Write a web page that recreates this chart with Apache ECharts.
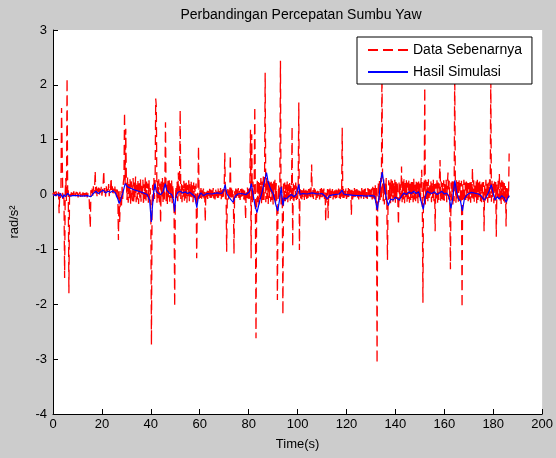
<!DOCTYPE html>
<html><head><meta charset="utf-8">
<script src="https://cdn.jsdelivr.net/npm/echarts@6/dist/echarts.min.js"></script>
<style>html,body{margin:0;padding:0;background:#cccccc}#c{width:556px;height:458px}</style>
</head><body><div id="c"></div>
<script>
// Chart texts
var titleText = 'Perbandingan Percepatan Sumbu Yaw';
var xName = 'Time(s)';
var yName = 'rad/s\u00b2';
var seriesNames = ['Data Sebenarnya', 'Hasil Simulasi'];
var xTicks = [0, 20, 40, 60, 80, 100, 120, 140, 160, 180, 200];
var yTicks = [-4, -3, -2, -1, 0, 1, 2, 3];

// Data Sebenarnya: samples every 0.25 s starting at t = 0, values in hundredths of rad/s^2
var redStep = 0.25;
var redV = [
3,-2,5,-4,2,6,-3,4,-1,5,-34,4,-6,8,158,80,-8,3,-10,-152,
6,30,-12,212,-4,8,-180,-2,5,-3,4,-5,3,-2,6,-4,2,-3,5,-2,
4,-5,3,-2,5,-4,2,6,-3,4,-2,5,-4,3,-1,6,-5,2,4,-3,
-2,-61,8,3,12,-2,15,4,10,43,2,16,-3,11,5,17,0,13,4,14,
-2,9,18,43,3,12,-4,16,6,10,2,19,-3,14,8,30,4,15,-2,11,
6,17,1,12,-5,9,3,-83,10,-50,-12,6,-20,14,-8,22,30,150,18,120,
25,-10,32,-15,20,-8,28,-18,24,2,-12,30,-16,22,-5,33,-14,18,-9,26,
-17,21,-6,29,-13,16,0,27,-19,19,-8,31,-11,24,-4,20,-15,26,-10,12,
-30,-274,-20,18,-12,30,-8,22,175,160,-15,25,-10,28,-18,20,-52,24,-6,30,
-14,22,-9,27,132,-12,19,-17,25,-5,29,-13,21,-8,26,-16,18,-11,-30,-204,
-20,15,-9,24,-12,40,-6,19,154,-10,22,-14,17,-4,25,-11,20,-7,23,-15,
18,-3,26,-12,21,-8,24,-5,19,-14,22,-6,16,-10,20,-116,-15,12,88,-8,
10,-6,12,-9,8,-4,11,-7,9,-49,6,-5,10,-8,7,-3,11,-6,9,-10,
8,-4,12,-7,6,-9,10,-3,9,-6,11,-8,7,-2,12,-10,8,-5,10,-4,
14,76,-8,12,-104,-6,10,-9,8,-4,72,-10,11,-5,9,-7,-108,6,-6,11,
-8,9,-3,12,-6,8,-10,10,-4,11,-7,9,-9,12,-5,-45,8,-6,13,-10,
15,-12,20,118,-116,110,-15,24,-10,18,160,-20,-262,-25,28,-14,26,-18,22,-8,
30,-16,24,-12,33,-10,27,222,-14,32,-8,25,-17,28,-6,22,-13,26,-10,20,
-18,24,-9,27,-15,21,-20,-192,-12,18,-8,25,244,-22,15,-10,-219,20,-16,22,
-12,18,-7,24,-14,19,-5,21,-11,16,-8,124,-95,20,-12,17,-6,22,-10,15,
-8,14,168,-101,10,-7,12,-9,8,-5,11,-10,9,-4,12,-8,7,-6,10,-3,
11,-9,8,55,-5,10,-8,12,-4,9,-10,7,-6,11,-3,8,-9,10,-5,12,
-7,9,-4,11,-8,6,-49,8,-10,10,-43,9,-6,11,-8,7,-4,10,-9,8,
-5,12,-7,9,-10,8,-3,11,-6,9,-8,12,-4,122,-9,10,-6,8,-3,11,
-8,9,-5,12,-7,10,-4,8,-37,11,-9,7,-5,12,-8,9,-3,10,-6,8,
-9,11,-4,9,-7,12,-5,8,-10,10,-3,11,-6,9,-8,12,-4,10,-7,9,
-5,11,-9,14,-8,16,-12,18,-15,12,-308,-20,22,-14,26,-10,30,-8,240,20,
-12,28,-18,24,-10,30,-20,-119,-14,26,-8,22,-16,28,-6,25,-13,21,-9,27,
-15,23,-7,20,-11,-55,25,-12,19,-6,51,-14,24,-9,28,-16,21,-5,26,-13,
22,-8,27,-15,20,-10,25,-6,23,-14,29,-9,18,-12,26,-7,22,-16,24,-5,
20,-11,27,45,-14,-197,22,-12,195,-18,26,-8,23,-13,28,-10,19,-6,25,-14,
21,-9,27,-12,24,-67,20,-7,26,-15,22,-10,28,63,-12,24,-8,21,-13,26,
-11,23,-6,27,-14,19,40,-9,25,-16,-136,22,-10,28,-18,24,-12,230,20,-15,
26,-9,23,-13,28,-11,21,-16,25,-206,19,-8,27,-14,22,-10,24,-6,26,-12,
21,-9,25,-15,23,-7,48,-11,26,-13,20,-8,24,-16,27,-10,22,-5,25,-12,
19,-14,26,-9,23,-67,21,-11,27,-8,24,-15,22,-10,28,-6,220,-13,25,-9,
21,-16,27,-11,23,-77,20,-10,25,-8,38,-14,22,-17,26,-9,24,-12,21,-15,
18,-58,12,-10,15,-6,75
];

// Hasil Simulasi: time (s) and value (rad/s^2)
var blueT = [0,1,2,2.5,3,4,4.5,5,6,7,8,10,12,14,15.5,16.5,17.5,18.5,19.5,20.5,21.5,22.5,23.5,24.5,25.5,26.5,27,27.5,28.5,29.5,30,30.5,31.5,33,35,37,38.5,39.5,40.2,40.7,41.2,41.7,42.2,43,44,45,45.9,46.5,47.5,48.5,49.3,49.7,50.2,51,52,53,54,55,56,57,58,58.8,59.4,60.5,61.5,62.3,63,65,67,69,69.8,70.4,71,72,73.6,74.5,75.5,77,79,80.3,81.1,81.8,82.6,83.4,84.5,85.5,86.5,87.3,88,89,90,91.2,91.9,92.6,93.3,94,94.6,95.5,96.5,97.5,98.5,99.5,100.5,101,102,104,106,108,110,111.5,112.2,113,115,117,118.2,118.8,120,122,124,126,128,130,131.5,132.6,133.3,134,134.6,135.2,135.8,136.5,137.1,138,139,140,141.5,142.5,143.5,144.5,145.5,146.5,147.5,148.5,149.5,150.3,151.4,152.2,153,154,155,156,157,158,159,160,161,162,162.7,163.5,164.3,165,165.8,166.6,167.4,168.2,169,170,171,172,173,174,175,176.3,177.2,178.2,179.2,180,180.8,181.6,182.5,183.5,184.5,185.3,186,186.6];
var blueV = [0,-0.02,0.01,-0.03,0.02,-0.06,0,-0.04,0.02,-0.03,-0.02,-0.02,-0.03,-0.02,-0.04,0.02,0.06,0.02,0.05,0.08,0.03,0.06,0.04,0.07,0.03,-0.08,-0.16,-0.12,0.02,0.2,0.22,0.14,0.12,0.09,0.06,0.03,0,-0.1,-0.5,-0.2,0.05,0.2,0.06,0.02,0,0.05,0.2,0.08,0.03,0,-0.1,-0.31,-0.05,0.04,0.06,0.03,0.05,0.02,0.04,0,-0.04,-0.24,-0.05,0.03,-0.02,0,0.02,0.01,0.03,0.02,0.08,0.18,0.02,-0.05,-0.14,-0.03,0.01,0.02,0,0.05,0.2,0,-0.2,-0.33,-0.12,0.05,0.25,0.4,0.22,0.1,0.02,-0.2,-0.3,-0.1,0.14,-0.2,-0.06,-0.08,-0.03,0,-0.04,0,0.18,0,0.02,0.01,0.03,0.01,0.02,-0.04,-0.08,-0.02,0,0.01,0.08,0.01,0,-0.01,-0.02,-0.02,-0.03,-0.02,-0.03,-0.28,-0.05,0.25,0.41,0.22,0.05,-0.1,-0.2,-0.08,-0.1,-0.05,-0.1,-0.03,0.03,0,0.05,0.02,0.06,0.02,0.05,0.03,-0.27,-0.04,0.06,0.03,0.02,0.05,0,0.03,0.06,0.01,0.03,-0.05,-0.25,-0.05,0.26,0.05,-0.08,-0.12,-0.3,-0.08,-0.02,0.02,0.04,0.03,0.02,0.01,-0.02,-0.1,-0.04,0.05,0.18,0.02,-0.1,-0.04,-0.08,-0.02,-0.06,-0.14,-0.06,-0.02];

var redData = redV.map(function (v, i) { return [i * redStep, v / 100]; });
var blueData = blueT.map(function (t, i) { return [t, blueV[i]]; });

var FONT = 'Liberation Sans, Arial, sans-serif';
var chart = echarts.init(document.getElementById('c'), null, {renderer: 'canvas'});
chart.setOption({
  backgroundColor: '#cccccc',
  animation: false,
  title: {
    text: titleText, left: 296, top: 3, textAlign: 'center',
    textStyle: {fontFamily: FONT, fontSize: 14, fontWeight: 'normal', color: '#000'}
  },
  legend: {
    data: seriesNames,
    orient: 'vertical', left: 357, top: 37,
    itemWidth: 40, itemHeight: 10, itemGap: 8,
    itemStyle: {opacity: 0},
    backgroundColor: '#ffffff', borderColor: '#000', borderWidth: 1,
    padding: [6, 10, 5, 10], borderRadius: 0,
    textStyle: {fontFamily: FONT, fontSize: 14, color: '#000'}
  },
  grid: {left: 50, right: 13, top: 30, bottom: 44, show: true, backgroundColor: '#ffffff', borderWidth: 0, containLabel: false},
  xAxis: {
    type: 'value', min: 0, max: 200, interval: 20,
    name: xName, nameLocation: 'middle', nameGap: 24,
    nameTextStyle: {fontFamily: FONT, fontSize: 13, color: '#000'},
    axisLine: {show: true, onZero: false, lineStyle: {color: '#000', width: 1}},
    axisTick: {show: true, inside: true, length: 5, lineStyle: {color: '#000'}},
    axisLabel: {fontFamily: FONT, fontSize: 13, color: '#000', margin: 4,
      formatter: function (v) { return xTicks.indexOf(v) >= 0 ? String(v) : ''; }},
    splitLine: {show: false}
  },
  yAxis: {
    type: 'value', min: -4, max: 3, interval: 1,
    name: yName, nameLocation: 'middle', nameGap: 32,
    nameTextStyle: {fontFamily: FONT, fontSize: 13, color: '#000'},
    axisLine: {show: true, onZero: false, lineStyle: {color: '#000', width: 1}},
    axisTick: {show: true, inside: true, length: 5, lineStyle: {color: '#000'}},
    axisLabel: {fontFamily: FONT, fontSize: 13, color: '#000', margin: 6,
      formatter: function (v) { return yTicks.indexOf(v) >= 0 ? String(v) : ''; }},
    splitLine: {show: false}
  },
  series: [
    {name: seriesNames[0], type: 'line', data: redData, symbol: 'none', z: 2,
     lineStyle: {color: '#ff0000', width: 1.3, type: [10, 5]}, itemStyle: {color: '#ff0000'}},
    {name: seriesNames[1], type: 'line', data: blueData, symbol: 'none', z: 3,
     lineStyle: {color: '#0000ff', width: 1.2}, itemStyle: {color: '#0000ff'}}
  ]
});
</script></body></html>
